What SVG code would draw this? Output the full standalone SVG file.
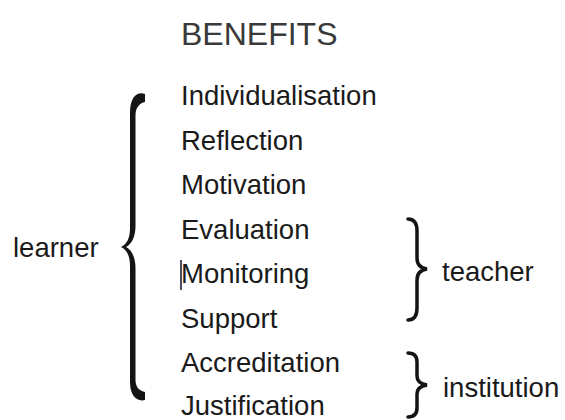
<svg xmlns="http://www.w3.org/2000/svg" width="565" height="420" viewBox="0 0 565 420">
  <style>
    text { font-family: "Liberation Sans", Arial, sans-serif; fill: #1a1a1a; }
    .title { font-size: 32px; fill: #3a3a3a; }
    .item { font-size: 27.5px; }
    .group { font-size: 27.5px; }
    .brace-thin { fill: none; stroke: #141414; stroke-width: 3.5; stroke-linecap: round; }
    .brace-bold { fill: #141414; stroke: none; }
  </style>
  <rect width="565" height="420" fill="#ffffff"/>

  <text class="title" x="181" y="45">BENEFITS</text>

  <g id="benefits">
    <text class="item" x="181" y="105">Individualisation</text>
    <text class="item" x="181" y="149.5">Reflection</text>
    <text class="item" x="181" y="194">Motivation</text>
    <text class="item" x="181" y="238.5">Evaluation</text>
    <text class="item" x="181" y="283">Monitoring</text>
    <text class="item" x="181" y="327.5">Support</text>
    <text class="item" x="181" y="372">Accreditation</text>
    <text class="item" x="181" y="415">Justification</text>
    <!-- caret before "Monitoring" -->
    <line x1="181" y1="260" x2="181" y2="290" stroke="#1e1e3a" stroke-width="1.6"/>
  </g>

  <g id="connectors">
    <!-- learner brace: all eight benefits -->
    <path class="brace-bold" d="M 145 94 C 137 91, 130 97, 130 113 L 130 228 C 130 238, 127 244, 121 247 C 127 250, 130 256, 130 266 L 130 382 C 130 396, 137 402, 145 400 L 145 392 C 140 391, 135.5 388, 135.5 380 L 135.5 268 C 135.5 258, 132 250, 126 247 C 132 244, 135.5 236, 135.5 226 L 135.5 115 C 135.5 107, 140 103, 145 102 Z"/>
    <!-- teacher brace: Evaluation .. Support -->
    <path class="brace-thin" d="M 408 219 C 414 219, 417 223, 417 231 L 417 258 C 417 264, 420 268, 427 269 C 420 270, 417 274, 417 280 L 417 308 C 417 316, 414 320, 408 320"/>
    <!-- institution brace: Accreditation .. Justification -->
    <path class="brace-thin" d="M 408 353 C 414 353, 417 356, 417 362 L 417 376 C 417 381, 420 384, 427 385 C 420 386, 417 389, 417 394 L 417 408 C 417 414, 414 417, 408 417"/>
  </g>

  <g id="learner"><text class="group" x="13" y="257">learner</text></g>
  <g id="teacher"><text class="group" x="442" y="281">teacher</text></g>
  <g id="institution"><text class="group" x="443" y="397">institution</text></g>
</svg>
